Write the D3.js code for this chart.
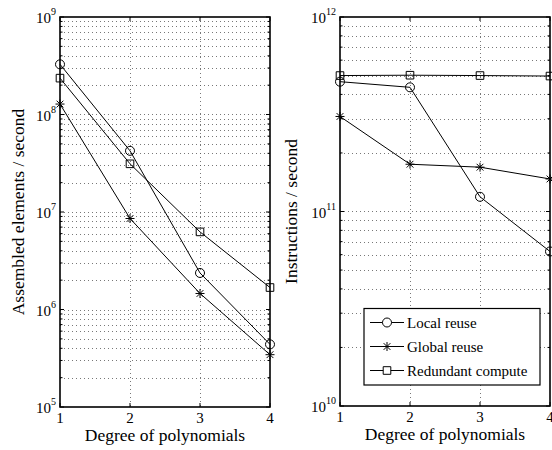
<!DOCTYPE html>
<html>
<head>
<meta charset="utf-8">
<script src="https://cdn.jsdelivr.net/npm/d3@7"></script>
</head>
<body style="margin:0">
<div id="wrap" style="position:relative;width:552px;height:450px;font-family:'Liberation Serif'">
<svg id="chart" width="552" height="450" style="display:block;font-family:'Liberation Serif'"></svg>
<div class="xtitle" style="position:absolute;font-family:'Liberation Serif';font-size:17.5px;line-height:1;white-space:nowrap;transform:translateX(-50%)">Degree of polynomials</div>
<div class="xtitle" style="position:absolute;font-family:'Liberation Serif';font-size:17.5px;line-height:1;white-space:nowrap;transform:translateX(-50%)">Degree of polynomials</div>
</div>
<script>
// Polynomial degrees on the x axis
const degrees = [1, 2, 3, 4];
const seriesNames = ["Local reuse", "Global reuse", "Redundant compute"];
const markerKinds = ["circle", "star", "square"];

// Assembled elements per second
const assembledLocal = [3.27e8, 4.24e7, 2.37e6, 4.39e5];
const assembledGlobal = [1.28e8, 8.58e6, 1.46e6, 3.44e5];
const assembledRedundant = [2.36e8, 3.12e7, 6.25e6, 1.68e6];

// Instructions per second
const instrLocal = [4.65e11, 4.35e11, 1.19e11, 6.23e10];
const instrGlobal = [3.08e11, 1.75e11, 1.69e11, 1.47e11];
const instrRedundant = [5.0e11, 5.02e11, 5.0e11, 4.97e11];

const leftDecades = [5, 6, 7, 8, 9];
const rightDecades = [10, 11, 12];
const xTickLabels = ["1", "2", "3", "4"];

const FONT = "Liberation Serif";
const svg = d3.select("#chart");
const xTitles = d3.selectAll(".xtitle").nodes();

function addText(parent) {
  return parent.append("text").style("font-family", FONT);
}

function markerPath(kind) {
  if (kind === "circle") return "M-4.5,0a4.5,4.5 0 1,0 9,0a4.5,4.5 0 1,0 -9,0";
  if (kind === "square") return "M-3.8,-3.8h7.6v7.6h-7.6z";
  // asterisk: vertical, two diagonals, horizontal
  const r = 4.5, d = r * 0.75;
  return `M0,${-r}V${r}M${-d},${-d}L${d},${d}M${-d},${d}L${d},${-d}M${-r},0H${r}`;
}

function drawPanel(opts) {
  const { x0, x1, y0, y1, decades, series, ylabel, ylabelX, titleIndex } = opts;
  const g = svg.append("g");
  const x = d3.scaleLinear().domain([1, 4]).range([x0, x1]);
  const lo = decades[0], hi = decades[decades.length - 1];
  const y = d3.scaleLog().domain([Math.pow(10, lo), Math.pow(10, hi)]).range([y1, y0]);

  // grid values: every 1..9 × decade
  const gridVals = [];
  for (let e = lo; e < hi; e++) {
    for (let m = 1; m <= 9; m++) gridVals.push(m * Math.pow(10, e));
  }
  gridVals.push(Math.pow(10, hi));

  const grid = g.append("g").attr("stroke", "#555").attr("stroke-width", 0.8)
    .attr("stroke-dasharray", "1,3");
  gridVals.filter(v => v > y.domain()[0] && v < y.domain()[1]).forEach(v => {
    grid.append("line").attr("x1", x0).attr("x2", x1)
      .attr("y1", Math.round(y(v)) + 0.5).attr("y2", Math.round(y(v)) + 0.5);
  });
  degrees.filter(d => d > 1 && d < 4).forEach(d => {
    grid.append("line").attr("x1", Math.round(x(d)) + 0.5).attr("x2", Math.round(x(d)) + 0.5)
      .attr("y1", y0).attr("y2", y1);
  });

  // inward ticks on all four sides
  const ticks = g.append("g").attr("stroke", "#000").attr("stroke-width", 1);
  gridVals.forEach(v => {
    const isMajor = Math.abs(Math.log10(v) - Math.round(Math.log10(v))) < 1e-9;
    const len = isMajor ? 4 : 2.5;
    const yy = y(v);
    ticks.append("line").attr("x1", x0).attr("x2", x0 + len).attr("y1", yy).attr("y2", yy);
    ticks.append("line").attr("x1", x1).attr("x2", x1 - len).attr("y1", yy).attr("y2", yy);
  });
  degrees.forEach(d => {
    ticks.append("line").attr("x1", x(d)).attr("x2", x(d)).attr("y1", y1).attr("y2", y1 - 4);
    ticks.append("line").attr("x1", x(d)).attr("x2", x(d)).attr("y1", y0).attr("y2", y0 + 4);
  });

  // frame
  g.append("rect").attr("x", x0).attr("y", y0).attr("width", x1 - x0).attr("height", y1 - y0)
    .attr("fill", "none").attr("stroke", "#000").attr("stroke-width", 1.6);

  // series lines and markers
  series.forEach((vals, i) => {
    const pts = degrees.map((d, j) => [x(d), y(vals[j])]);
    g.append("path").attr("d", d3.line()(pts)).attr("fill", "none")
      .attr("stroke", "#000").attr("stroke-width", 1);
    pts.forEach(p => {
      g.append("path").attr("d", markerPath(markerKinds[i]))
        .attr("transform", `translate(${p[0]},${p[1]})`)
        .attr("fill", "none").attr("stroke", "#000").attr("stroke-width", 1);
    });
  });

  // y tick labels: 10^e
  decades.forEach(e => {
    const t = addText(g).attr("x", x0 - 4).attr("y", y(Math.pow(10, e)) + 6)
      .attr("text-anchor", "end").attr("font-size", 15);
    t.append("tspan").text("10");
    t.append("tspan").attr("font-size", 10).attr("dy", -8).text(String(e));
  });

  // x tick labels
  degrees.forEach((d, j) => {
    addText(g).attr("x", x(d)).attr("y", y1 + 16).attr("text-anchor", "middle")
      .attr("font-size", 15).text(xTickLabels[j]);
  });

  // x axis title (HTML overlay), baseline about 35px under the frame
  d3.select(xTitles[titleIndex])
    .style("left", ((x0 + x1) / 2) + "px")
    .style("top", (y1 + 35 - 14.7) + "px");

  addText(g).attr("transform", `translate(${ylabelX},${(y0 + y1) / 2}) rotate(-90)`)
    .attr("text-anchor", "middle").attr("font-size", 17.5).text(ylabel);

  return { g, x, y };
}

drawPanel({
  x0: 60, x1: 270, y0: 17, y1: 407,
  decades: leftDecades,
  series: [assembledLocal, assembledGlobal, assembledRedundant],
  ylabel: "Assembled elements / second", ylabelX: 24, titleIndex: 0
});

const right = drawPanel({
  x0: 340, x1: 550, y0: 17, y1: 406,
  decades: rightDecades,
  series: [instrLocal, instrGlobal, instrRedundant],
  ylabel: "Instructions / second", ylabelX: 297, titleIndex: 1
});

// legend
const lg = right.g.append("g");
lg.append("rect").attr("x", 364).attr("y", 308.5).attr("width", 176).attr("height", 76.5)
  .attr("fill", "#fff").attr("stroke", "#000").attr("stroke-width", 1.2);
seriesNames.forEach((name, i) => {
  const yy = 322.5 + i * 24;
  lg.append("line").attr("x1", 370).attr("x2", 404).attr("y1", yy).attr("y2", yy)
    .attr("stroke", "#000").attr("stroke-width", 1);
  lg.append("path").attr("d", markerPath(markerKinds[i]))
    .attr("transform", `translate(387,${yy})`)
    .attr("fill", "#fff").attr("stroke", "#000").attr("stroke-width", 1);
  addText(lg).attr("x", 407).attr("y", yy + 5).attr("font-size", 15).text(name);
});
</script>
</body>
</html>
